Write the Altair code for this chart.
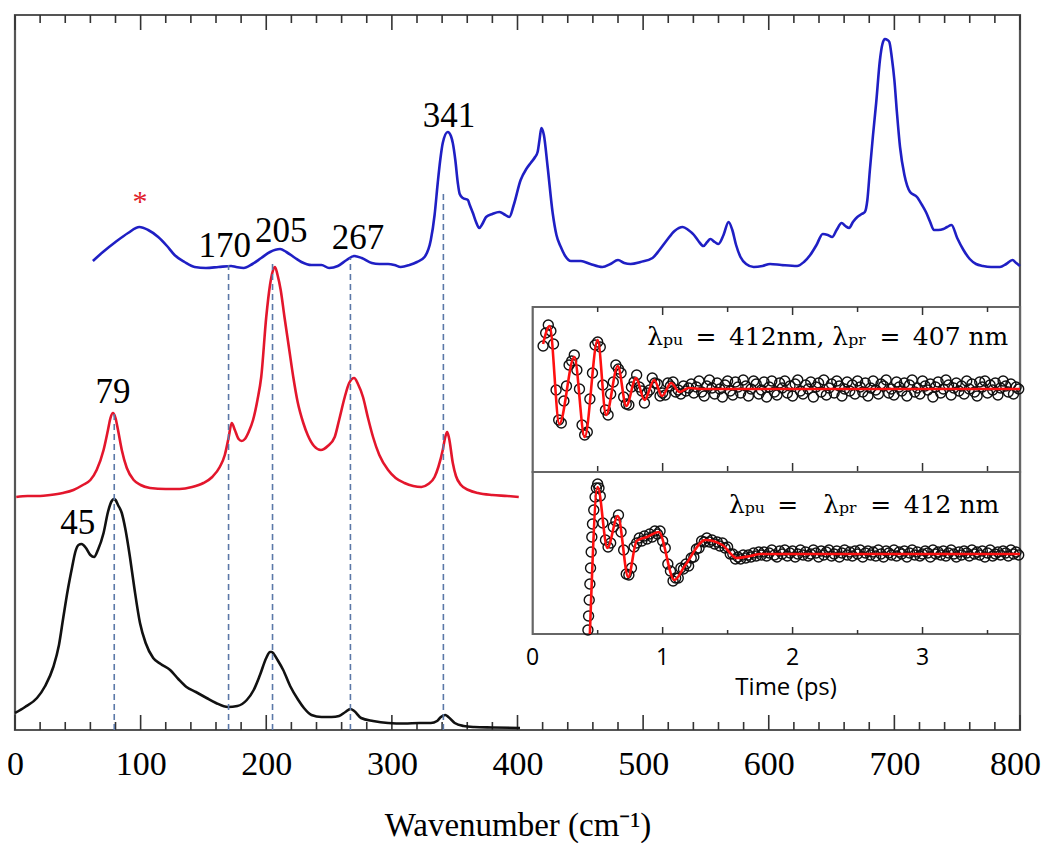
import altair as alt
import pandas as pd

# ---------------- main spectra (x: wavenumber / cm-1, y: intensity with offsets, a.u.) -------------
blue_x = [62, 70, 80, 90, 99, 106, 114, 121, 127, 135, 143, 152, 162, 172, 176, 182, 189, 196, 203, 211,
          216, 223, 228, 236, 244, 250, 257, 264, 270, 276, 284, 290, 297, 302, 307, 314, 320, 326, 331,
          334, 336.5, 338.5, 340.5, 344.5, 347, 348.5, 350.5, 352.5, 354, 356.5, 360.5, 362, 364.5, 367,
          369.5, 372, 375, 380, 385.5, 389, 393.5, 397, 402.5, 407, 410.5, 414, 416, 417.5, 419, 421, 424,
          428, 431, 434.5, 438, 442.5, 446, 450.5, 458, 467.5, 474, 480, 485, 490, 498, 507.5, 513, 519,
          525, 531.5, 536, 540.5, 544, 548, 551, 553.5, 557, 560, 564, 568, 571, 574, 577.5, 582, 588, 595,
          601, 610, 622.5, 628, 633, 638, 643, 647, 650.5, 654, 658, 661, 664, 667, 670.5, 674, 676.5,
          678.5, 680.5, 683, 685.5, 688.5, 690.5, 692.5, 694.5, 696, 698, 700, 702, 704.5, 708, 712.5,
          718, 722, 725.5, 728.5, 731.5, 735, 739, 742, 745.5, 750, 755, 760, 765, 770.5, 777, 784, 789,
          794, 797, 800]
blue_y = [469, 478, 488, 497, 503, 500, 493, 484, 475, 468, 463, 462, 463, 464, 463, 462, 466, 472, 478, 481,
          478, 472, 468, 465, 465, 462, 464, 470, 474, 472, 467, 466, 466, 465, 463, 465, 468, 473, 490,
          515, 547, 570, 587, 598, 594, 587, 570, 547, 536, 532, 530, 525, 517, 508,
          502, 506, 513, 516, 518, 516, 513, 525, 550, 561, 567, 573, 578, 590, 602, 595, 563,
          517, 495, 483, 474, 469, 469, 469, 466, 463, 466, 470, 467, 466, 468, 472, 480, 490,
          499, 503, 500, 495, 489, 484, 488, 491, 488, 486, 495, 508, 500, 485, 473, 466, 463, 464,
          466, 465, 464, 468, 475, 485, 496, 495, 493, 500, 507, 504, 502, 508, 513, 516, 518,
          530, 560, 595, 627, 670, 686, 691, 690, 688, 672, 650, 618, 583, 555, 538,
          533, 525, 517, 508, 500, 500, 501, 503, 505, 492, 480, 471, 466, 464, 463, 463, 466,
          470, 467, 464]

red_x = [1, 10, 20, 28, 38, 46.5, 54, 60, 65, 70.5, 74, 76, 78, 80, 82, 85, 89, 94.5, 100, 107.5, 120, 131,
         141, 150, 157, 163, 167, 170, 172.5, 175, 178, 180.5, 183, 186, 189.5, 193, 196, 200, 203, 205,
         207, 209, 211.5, 214.5, 218, 221.5, 225, 229.5, 233, 238, 243.5, 249, 254.5, 258, 262.5, 266, 270,
         273, 277, 281, 285, 290, 297, 303, 310, 317, 323.5, 329, 334, 337, 340.5, 342.5, 344, 345.5,
         348.5, 351, 355, 361, 368.5, 380, 392, 401]
red_y = [233, 234, 234, 235, 237, 240, 245, 250, 260, 280, 300, 312, 317, 312, 300, 280, 262, 250, 245, 242, 241, 241,
         243, 247, 253, 263, 275, 292, 307, 300, 291, 289, 291, 298, 310, 330, 353, 413, 445, 458,
         463, 455, 440, 413, 383, 353, 328, 307, 295, 284, 280, 284, 293, 310, 333, 347, 352,
         346, 333, 312, 293, 275, 260, 252, 247, 244, 243, 246, 253, 263, 280, 293, 298, 292,
         267, 254, 245, 240, 237, 235, 234, 233]

black_x = [0, 8, 17.5, 24, 30.5, 35, 38.5, 42, 45.5, 48, 50.5, 53, 56.5, 60, 63, 66, 70.5, 74, 77, 78.5, 80, 82,
           85, 88, 91.5, 95, 99.5, 104, 110, 116, 123.5, 130, 136.5, 144, 152.5, 160, 169.5, 177, 184.5, 190,
           195, 200, 203, 204.5, 206, 209, 213.5, 219, 225.5, 230, 236, 244, 252, 258, 263, 267, 270, 275.5,
           285, 297, 310, 322, 331, 336, 339, 342.5, 345, 350, 357, 365.5, 380, 402]
black_y = [17, 23, 32, 44, 63, 85, 113, 140, 163, 178, 185, 186, 182, 175, 173, 180, 197, 218, 229, 231, 230, 225,
           217, 200, 173, 142, 107, 87, 72, 66, 60, 51, 43, 38, 32, 27, 23, 24, 30, 40,
           55, 72, 78, 78, 76, 70, 60, 44, 30, 22, 15, 13, 13, 14, 18, 21, 19, 12,
           9, 7, 6.5, 7, 7, 9, 13, 15, 13, 7, 4, 3, 2.5, 2]

peak_labels = ["45", "79", "170", "205", "267", "341"]
peak_label_x = [50, 78, 167, 212, 273, 345.5]
peak_label_y = [207, 338, 484, 499, 492, 614]

star_text = ["*"]
star_x = [99.5]
star_y = [528]

dash_x = [79, 170, 205, 267, 341]
dash_top = [317, 465, 467, 472, 540]

major_ticks = [0, 100, 200, 300, 400, 500, 600, 700, 800]
minor_ticks = [20, 40, 60, 80, 120, 140, 160, 180, 220, 240, 260, 280, 320, 340, 360, 380, 420, 440, 460,
               480, 520, 540, 560, 580, 620, 640, 660, 680, 720, 740, 760, 780]

# ---------------- inset: time traces (x: time / ps, y: signal, a.u.) ----------------
top_t0, top_dt = 0.08, 0.02
top_vals = [126, 139, 147, 141, 128, 82, 52, 49, 71, 86, 107, 111, 117, 102, 83, 47, 37, 40, 73, 99,
            127, 130, 125, 87, 62, 57, 78, 90, 107, 103, 99, 75, 68, 67, 85, 90, 97, 85, 81, 69,
            79, 82, 94, 89, 88, 76, 79, 77, 89, 86, 90, 80, 82, 78, 86, 81,
            84, 88, 79, 85, 91, 80, 76, 86, 92, 84, 78, 89, 83, 75, 87, 91,
            81, 77, 90, 85, 79, 92, 86, 76, 83, 91, 88, 78, 82, 90, 75, 85,
            91, 80, 77, 89, 84, 91, 79, 86, 76, 88, 92, 81, 78, 87, 83, 90,
            75, 85, 89, 80, 92, 77, 84, 88, 79, 91, 86, 76, 83, 90, 81, 87,
            78, 91, 85, 80, 89, 76, 84, 91, 82, 78, 88, 86, 92, 79, 83, 77,
            90, 85, 81, 89, 76, 87, 92, 80, 84, 78, 91, 86, 82, 88, 75, 85,
            90, 79, 83, 92, 87, 77, 84, 89, 81, 86, 78, 91, 83, 88, 80, 76,
            90, 85, 91, 79, 87, 82, 89, 77, 84, 91, 86, 80, 88, 78, 85, 83]
top_fit_t = [0.08, 0.13, 0.205, 0.32, 0.40, 0.50, 0.565, 0.655, 0.72, 0.795, 0.86, 0.935, 0.995, 1.065,
             1.13, 1.2, 1.3, 3.75]
top_fit_v = [128, 146, 48, 115, 35, 132, 57, 106, 66, 94, 72, 92, 76, 89, 80, 84, 83, 83]

bot_rise_t = [0.425, 0.43, 0.435, 0.44, 0.445, 0.45, 0.455, 0.46, 0.47, 0.48, 0.49, 0.50, 0.51]
bot_rise_v = [4, 18, 34, 50, 66, 82, 97, 110, 124, 137, 146, 150, 146]
bot_t0, bot_dt = 0.52, 0.02
bot_vals = [138, 111, 94, 87, 91, 107, 113, 119, 102, 84, 60, 59, 66, 87, 91, 96, 93, 98, 95, 100,
            97, 103, 100, 103, 93, 86, 70, 63, 53, 56, 56, 66, 65, 70, 68, 76, 77, 85, 86,
            93, 92, 96, 92, 94, 90, 92, 88, 91, 86, 87, 80, 80, 75, 77, 75, 79, 76, 79, 77,
            81, 78, 82, 79,
            82, 78, 81, 84, 79, 77, 83, 80, 84, 78, 81, 83, 77, 80, 84, 79,
            82, 78, 80, 84, 81, 77, 83, 79, 82, 84, 78, 80, 83, 77, 81, 84,
            79, 82, 78, 83, 80, 84, 77, 81, 83, 79, 82, 78, 84, 80, 77, 83,
            81, 79, 84, 78, 82, 80, 83, 77, 81, 84, 79, 82, 78, 80, 83, 81,
            77, 84, 80, 82, 79, 83, 78, 81, 84, 80, 77, 82, 79, 83, 81, 78,
            84, 80, 82, 79, 83, 77, 81, 84, 78, 80, 82, 79, 83, 81, 78, 84,
            80, 82, 79]
bot_fit_t = [0.44, 0.50, 0.575, 0.655, 0.735, 0.80, 0.88, 0.97, 1.09, 1.17, 1.33, 1.46, 1.57, 1.675, 1.75, 3.75]
bot_fit_v = [0, 147, 86, 118, 57, 93, 97, 102, 54, 68, 94, 89, 76, 78, 80, 80]

inset_major = [1, 2, 3]
inset_minor = [0.5, 1.5, 2.5, 3.5]
inset_tick_labels = ["0", "1", "2", "3"]
inset_tick_t = [0, 1, 2, 3]
inset_title = "Time (ps)"
top_note = "λₚᵤ\u2002=\u2002412nm, λₚᵣ\u2002=\u2002407 nm"
bot_note = "λₚᵤ\u2002=\u2002\u2002λₚᵣ\u2002=\u2002412 nm"

# ---------------- layout constants (pixels of the plot area) ----------------
W, H = 1005, 715
T_MAX = 3.75
INSET_X = [517.7, W]
TOP_H, BOT_H = 165, 162
TOP_RANGE = [457, 292]
BOT_RANGE = [619, 457]

SERIF = "Liberation Serif"

# ---------------- main chart ----------------
xs = alt.Scale(domain=[0, 800], nice=False, zero=False)
ys = alt.Scale(domain=[0, H], nice=False, zero=False)
xaxis = alt.Axis(values=major_ticks, ticks=False, tickSize=0, domain=False, grid=False, labelFlush=False,
                 labelFont=SERIF, labelFontSize=34, labelColor="black", labelPadding=17,
                 labelOffset={"condition": {"test": "datum.value >= 800", "value": -5}, "value": 0},
                 title="Wavenumber (cm⁻¹)", titleFont=SERIF, titleFontSize=33, titleFontWeight="normal",
                 titleColor="black", titlePadding=28)


def X(field="x"):
    return alt.X(f"{field}:Q", scale=xs, axis=xaxis)


def Y(field="y"):
    return alt.Y(f"{field}:Q", scale=ys, axis=None)


df_major = pd.DataFrame({"x": major_ticks})
df_minor = pd.DataFrame({"x": minor_ticks})

frame_main = alt.Chart(pd.DataFrame({"x": [0], "x2": [800], "y": [0], "y2": [H]})).mark_rect(
    fill=None, stroke="#555", strokeWidth=2.2).encode(x=X(), x2="x2:Q", y=Y(), y2="y2:Q")

tick_layers = [
    alt.Chart(df_major).mark_rule(color="#333", strokeWidth=1.6).encode(x=X(), y=alt.value(H), y2=alt.value(H - 15)),
    alt.Chart(df_minor).mark_rule(color="#333", strokeWidth=1.6).encode(x=X(), y=alt.value(H), y2=alt.value(H - 8)),
    alt.Chart(df_major).mark_rule(color="#333", strokeWidth=1.6).encode(x=X(), y=alt.value(0), y2=alt.value(15)),
    alt.Chart(df_minor).mark_rule(color="#333", strokeWidth=1.6).encode(x=X(), y=alt.value(0), y2=alt.value(8)),
]


def spectrum(xv, yv, color):
    d = pd.DataFrame({"x": xv, "y": yv})
    return alt.Chart(d).mark_line(color=color, strokeWidth=2.6, interpolate="monotone").encode(
        x=X(), y=Y(), order="x:Q")


df_dash = pd.DataFrame({"x": dash_x, "y": [0] * len(dash_x), "y2": dash_top})
dashes = alt.Chart(df_dash).mark_rule(color="#5b78a8", strokeWidth=1.6, strokeDash=[6, 4]).encode(
    x=X(), y=Y(), y2="y2:Q")

df_lab = pd.DataFrame({"x": peak_label_x, "y": peak_label_y, "t": peak_labels})
labels = alt.Chart(df_lab).mark_text(font=SERIF, fontSize=35, color="black", baseline="middle").encode(
    x=X(), y=Y(), text="t:N")

df_star = pd.DataFrame({"x": star_x, "y": star_y, "t": star_text})
star = alt.Chart(df_star).mark_text(font=SERIF, fontSize=30, color="#e01b2b", baseline="middle").encode(
    x=X(), y=Y(), text="t:N")

main = alt.layer(frame_main, *tick_layers,
                 spectrum(black_x, black_y, "#111111"),
                 spectrum(red_x, red_y, "#e3162c"),
                 spectrum(blue_x, blue_y, "#1f1fc4"),
                 dashes, labels, star)

# ---------------- inset ----------------
xi = alt.Scale(domain=[0, T_MAX], range=INSET_X, nice=False, zero=False)
yt = alt.Scale(domain=[0, TOP_H], range=TOP_RANGE, nice=False, zero=False)
yb = alt.Scale(domain=[0, BOT_H], range=BOT_RANGE, nice=False, zero=False)


def TX(field="t"):
    return alt.X(f"{field}:Q", scale=xi, axis=None)


def panel(height, yscale, circ_t, circ_v, fit_t, fit_v, note, note_t, note_v, tick_specs, extra=None):
    def TY(field="v"):
        return alt.Y(f"{field}:Q", scale=yscale, axis=None)

    frame = alt.Chart(pd.DataFrame({"t": [0], "t2": [T_MAX], "v": [0], "v2": [height]})).mark_rect(
        fill="white", stroke="#666", strokeWidth=2.2).encode(x=TX(), x2="t2:Q", y=TY(), y2="v2:Q")
    layers = [frame]
    for vals, base, length in tick_specs:
        d = pd.DataFrame({"t": vals, "v": [base] * len(vals), "v2": [base + length] * len(vals)})
        layers.append(alt.Chart(d).mark_rule(color="#333", strokeWidth=1.5).encode(x=TX(), y=TY(), y2="v2:Q"))
    dc = pd.DataFrame({"t": circ_t, "v": circ_v})
    dc = dc[dc["t"] <= T_MAX]
    layers.append(alt.Chart(dc).mark_point(shape="circle", filled=False, size=100, color="#111111",
                                           strokeWidth=1.4, opacity=1).encode(x=TX(), y=TY()))
    df_fit = pd.DataFrame({"t": fit_t, "v": fit_v})
    layers.append(alt.Chart(df_fit).mark_line(color="#ff1010", strokeWidth=2.6, interpolate="monotone").encode(
        x=TX(), y=TY(), order="t:Q"))
    dn = pd.DataFrame({"t": [note_t], "v": [note_v], "s": [note]})
    layers.append(alt.Chart(dn).mark_text(font="DejaVu Serif", fontSize=25, color="black", align="right",
                                          baseline="middle").encode(x=TX(), y=TY(), text="s:N"))
    if extra is not None:
        layers.extend(extra(TY))
    return alt.layer(*layers)


top_t = [round(top_t0 + top_dt * i, 3) for i in range(len(top_vals))]
bot_t = bot_rise_t + [round(bot_t0 + bot_dt * i, 3) for i in range(len(bot_vals))]
bot_v = bot_rise_v + bot_vals

top_panel = panel(TOP_H, yt, top_t, top_vals, top_fit_t, top_fit_v, top_note, 3.66, 135,
                  [(inset_major, TOP_H, -8), (inset_minor, TOP_H, -5),
                   (inset_major, 0, 9), (inset_minor, 0, 6)])


def bottom_extra(TY):
    dl = pd.DataFrame({"t": inset_tick_t, "v": [-24] * len(inset_tick_t), "s": inset_tick_labels})
    lab = alt.Chart(dl).mark_text(font="Open Sans", fontSize=23, color="black", baseline="middle").encode(
        x=TX(), y=TY(), text="s:N")
    dt = pd.DataFrame({"t": [1.95], "v": [-54], "s": [inset_title]})
    tit = alt.Chart(dt).mark_text(font="Open Sans", fontSize=24, color="black", baseline="middle").encode(
        x=TX(), y=TY(), text="s:N")
    return [lab, tit]


bot_panel = panel(BOT_H, yb, bot_t, bot_v, bot_fit_t, bot_fit_v, bot_note, 3.59, 129,
                  [(inset_major, 0, 7), (inset_minor, 0, 4)], extra=bottom_extra)

chart = alt.layer(main, top_panel, bot_panel).resolve_scale(
    x="independent", y="independent"
).properties(
    width=W, height=H,
    autosize=alt.AutoSizeParams(type="none"),
    padding={"left": 7, "top": 7, "right": 22, "bottom": 113},
    background="white",
).configure_view(stroke=None)

chart.save("out.html", embed_options={"renderer": "svg", "actions": False})
